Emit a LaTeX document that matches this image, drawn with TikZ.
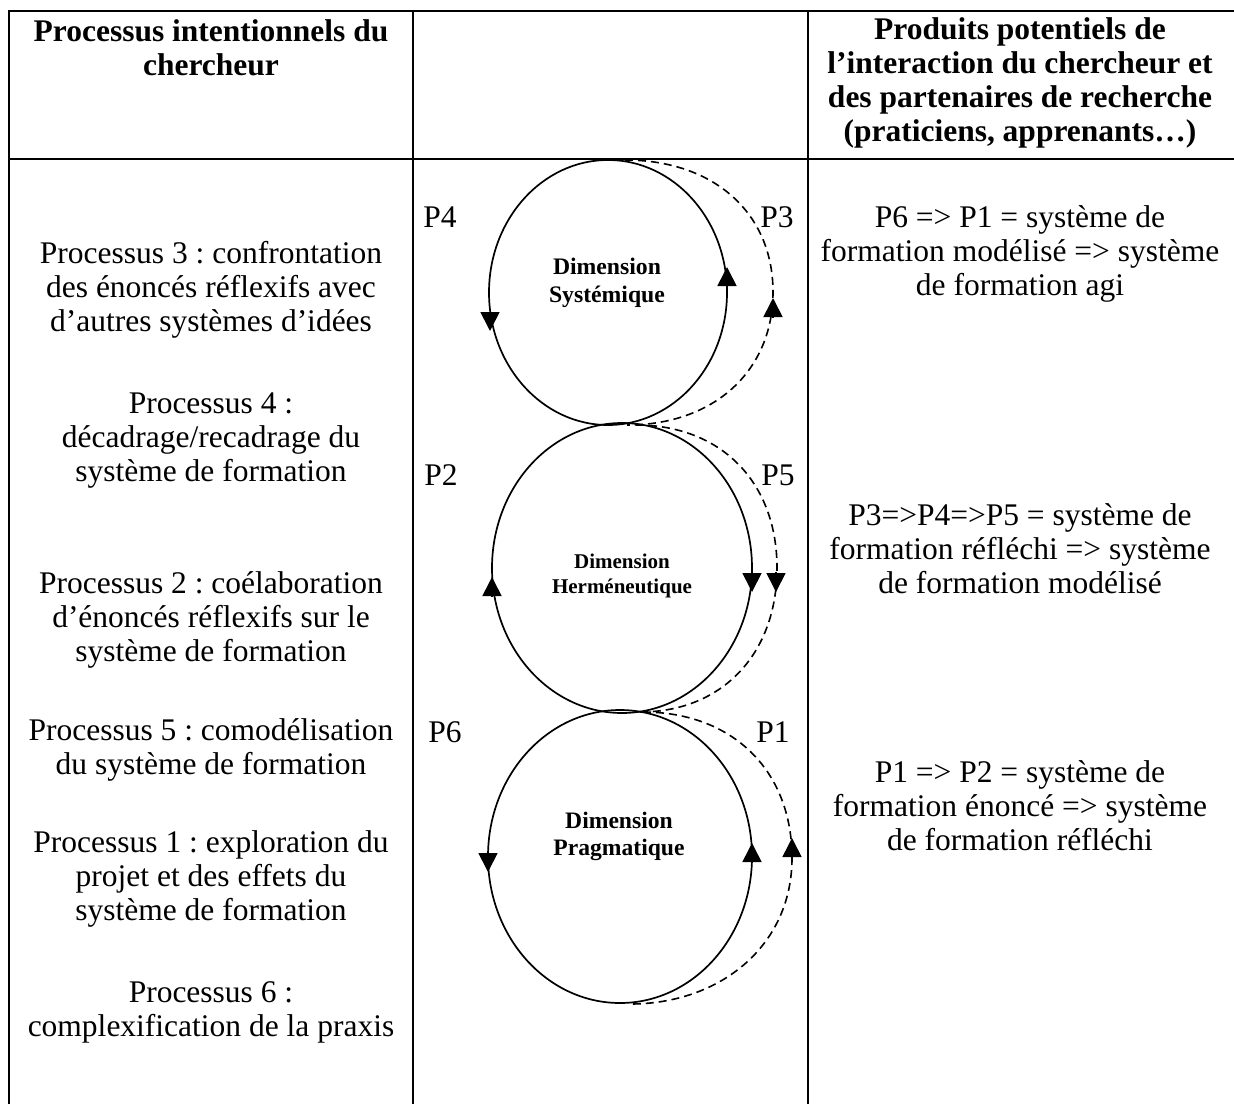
\documentclass[tikz,border=0pt]{standalone}
\usepackage{fontspec}
\setmainfont{Liberation Serif}
\usetikzlibrary{arrows.meta}
\frenchspacing
\begin{document}
\begin{tikzpicture}[x=1pt,y=-1pt,
  rule/.style={line width=2.2pt},
  ring/.style={line width=1.7pt},
  back/.style={line width=1.6pt, dash pattern=on 8pt off 5pt},
  tip/.style={-{Triangle[length=19pt,width=19pt]}, line width=1.7pt},
  body/.style={align=center, inner sep=0pt, font=\fontsize{31.5}{34}\selectfont},
  head/.style={align=center, inner sep=0pt, font=\fontsize{31.5}{34}\selectfont\bfseries},
  plabel/.style={inner sep=0pt, font=\fontsize{31.5}{34}\selectfont},
  dim/.style={align=center, inner sep=0pt},
]
\useasboundingbox (0,0) rectangle (1234,1104);

% table rules
\draw[rule] (9,1104) -- (9,11) -- (1234,11);
\draw[rule] (9,159) -- (1234,159);
\draw[rule] (413,11) -- (413,1104);
\draw[rule] (808,11) -- (808,1104);

% headers
\node[head] (h1) at (211,48) {Processus intentionnels du\\chercheur};
\node[head] (h3) at (1020,83) {Produits potentiels de\\l’interaction du chercheur et\\des partenaires de recherche\\(praticiens, apprenants…)};

% left column: researcher processes
\node[body] (p3) at (211,290) {Processus 3 : confrontation\\des énoncés réflexifs avec\\d’autres systèmes d’idées};
\node[body] (p4) at (211,441) {Processus 4 :\\décadrage/recadrage du\\système de formation};
\node[body] (p2) at (211,620) {Processus 2 : coélaboration\\d’énoncés réflexifs sur le\\système de formation};
\node[body] (p5) at (211,750) {Processus 5 : comodélisation\\du système de formation};
\node[body] (p1) at (211,879) {Processus 1 : exploration du\\projet et des effets du\\système de formation};
\node[body] (p6) at (211,1012) {Processus 6 :\\complexification de la praxis};

% right column: products
\node[body] (r1) at (1020,254) {P6 => P1 = système de\\formation modélisé => système\\de formation agi};
\node[body] (r2) at (1020,549) {P3=>P4=>P5 = système de\\formation réfléchi => système\\de formation modélisé};
\node[body] (r3) at (1020,806) {P1 => P2 = système de\\formation énoncé => système\\de formation réfléchi};

% systemic loop
\draw[ring] (608,292.5) ellipse [x radius=119pt, y radius=132.5pt];
\draw[back] (625,160) .. controls (714,160) and (773,213) .. (773,292)
            .. controls (773,371) and (714,425) .. (627,425);
\draw[tip] (490,312) -- (490,331);
\draw[tip] (727,287) -- (727,267);
\draw[tip] (773,318) -- (773,298);
\node[dim, font=\fontsize{23.7}{28}\selectfont\bfseries] (ds) at (607,283) {Dimension\\Systémique};

% hermeneutic loop
\draw[ring] (622,568) ellipse [x radius=130pt, y radius=145pt];
\draw[back] (636,425) .. controls (721,425) and (777,482) .. (777,568)
            .. controls (777,654) and (722,712) .. (640,712);
\draw[tip] (492,596) -- (492,577);
\draw[tip] (752,572) -- (752,592);
\draw[tip] (776,572) -- (776,592);
\node[dim, font=\fontsize{21}{25}\selectfont\bfseries] (dh) at (622,575.5) {Dimension\\Herméneutique};

% pragmatic loop
\draw[ring] (620,856.5) ellipse [x radius=132pt, y radius=146.5pt];
\draw[back] (643,712) .. controls (732,712) and (792,770) .. (792,858)
            .. controls (792,946) and (720,1004) .. (630,1004);
\draw[tip] (488,852) -- (488,872);
\draw[tip] (752,863) -- (752,843);
\draw[tip] (792,858) -- (792,838);
\node[dim, font=\fontsize{23.6}{27}\selectfont\bfseries] (dp) at (619,836.5) {Dimension\\Pragmatique};

% process labels around the loops
\node[plabel] (l4) at (440,217) {P4};
\node[plabel] (l3) at (777,217) {P3};
\node[plabel] (l2) at (441,475) {P2};
\node[plabel] (l5) at (778,475) {P5};
\node[plabel] (l6) at (445,732) {P6};
\node[plabel] (l1) at (773,732) {P1};
\end{tikzpicture}
\end{document}
